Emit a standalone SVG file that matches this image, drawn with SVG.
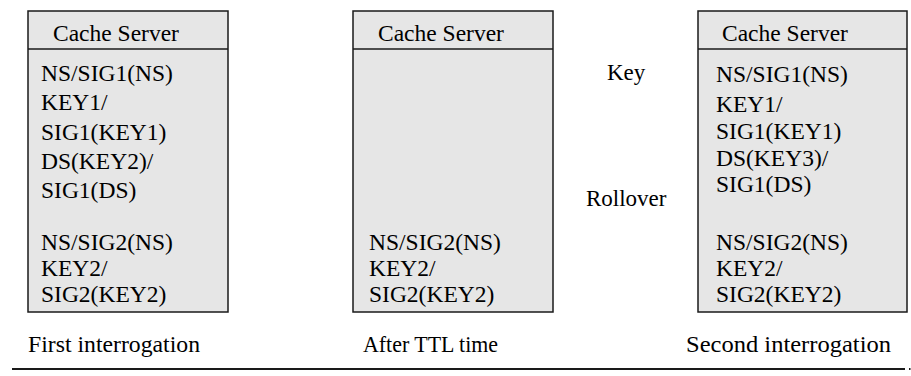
<svg xmlns="http://www.w3.org/2000/svg" width="911" height="376" viewBox="0 0 911 376">
<style>
.box{fill:#e6e6e6;stroke:#1a1a1a;stroke-width:1.5}
.div{stroke:#1a1a1a;stroke-width:1.5}
.t{font-family:'Liberation Serif','Times New Roman',serif;font-size:23.5px;fill:#000}
.lbl{font-size:23px}
</style>
<rect width="911" height="376" fill="#fff"/>
<g id="server1" class="t">
<rect class="box" x="28" y="11" width="200" height="301"/>
<line class="div" x1="28" y1="49" x2="228" y2="49"/>
<text x="53" y="41">Cache Server</text>
<text x="41" y="81">NS/SIG1(NS)</text>
<text x="41" y="110">KEY1/</text>
<text x="41" y="140">SIG1(KEY1)</text>
<text x="41" y="169">DS(KEY2)/</text>
<text x="41" y="198">SIG1(DS)</text>
<text x="41" y="250">NS/SIG2(NS)</text>
<text x="41" y="276">KEY2/</text>
<text x="41" y="302">SIG2(KEY2)</text>
</g>
<g id="server2" class="t">
<rect class="box" x="353" y="11" width="200" height="301"/>
<line class="div" x1="353" y1="49" x2="553" y2="49"/>
<text x="378" y="41">Cache Server</text>
<text x="369" y="250">NS/SIG2(NS)</text>
<text x="369" y="276">KEY2/</text>
<text x="369" y="302">SIG2(KEY2)</text>
</g>
<g id="server3" class="t">
<rect class="box" x="698" y="11" width="209" height="301"/>
<line class="div" x1="698" y1="49" x2="907" y2="49"/>
<text x="722" y="41">Cache Server</text>
<text x="716" y="82">NS/SIG1(NS)</text>
<text x="716" y="112">KEY1/</text>
<text x="716" y="139">SIG1(KEY1)</text>
<text x="716" y="166">DS(KEY3)/</text>
<text x="716" y="192">SIG1(DS)</text>
<text x="716" y="250">NS/SIG2(NS)</text>
<text x="716" y="276">KEY2/</text>
<text x="716" y="302">SIG2(KEY2)</text>
</g>
<g id="labels" class="t">
<text class="lbl" x="28" y="352" textLength="172" lengthAdjust="spacingAndGlyphs">First interrogation</text>
<text class="lbl" x="363" y="352" textLength="135" lengthAdjust="spacingAndGlyphs">After TTL time</text>
<text class="lbl" x="686" y="352" textLength="205" lengthAdjust="spacingAndGlyphs">Second interrogation</text>
<text class="lbl" x="607" y="80">Key</text>
<text class="lbl" x="586" y="206">Rollover</text>
</g>
<g id="connectors">
<line x1="12" y1="369" x2="905" y2="369" stroke="#1a1a1a" stroke-width="2"/>
<rect x="909" y="368" width="1.5" height="2" fill="#1a1a1a"/>
</g>
</svg>
